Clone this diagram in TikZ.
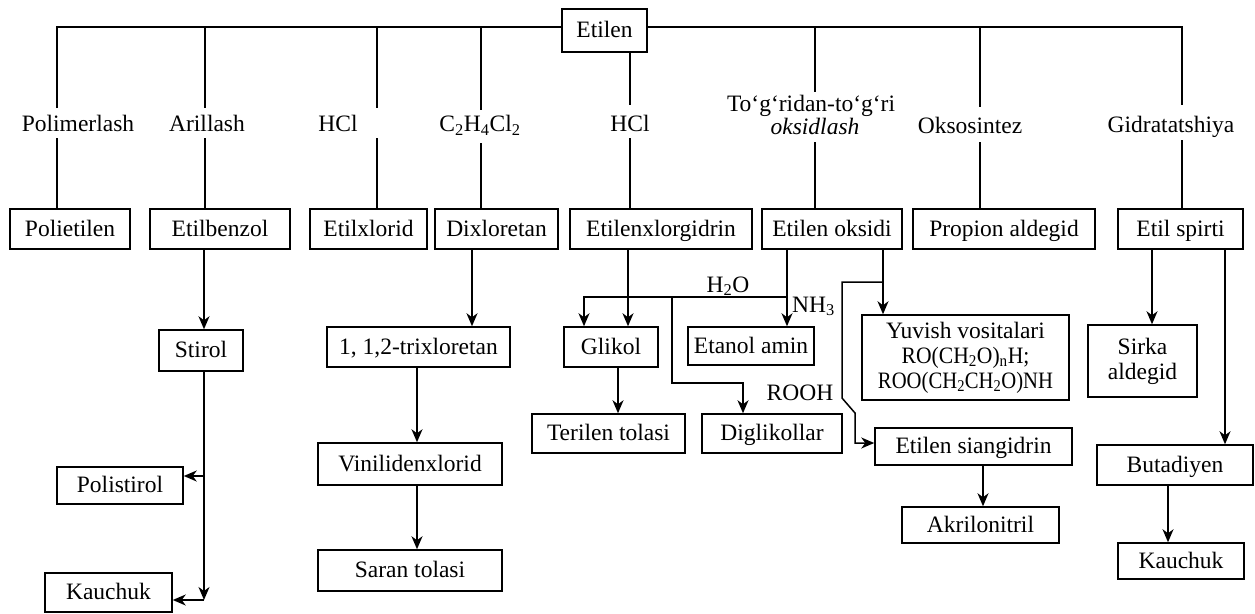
\documentclass[tikz,border=0pt]{standalone}
\usepackage{fontspec}
\setmainfont{Liberation Serif}
\usepackage{graphicx}
\usetikzlibrary{arrows.meta}
\begin{document}
\begin{tikzpicture}[x=1pt,y=-1pt,
  every node/.style={font=\fontsize{23.5}{25}\selectfont},
  box/.style={draw, line width=1.5pt, inner sep=0pt, align=center},
  sbox/.style={box, text height=17pt, text depth=3pt},
  bx/.style 2 args={minimum width=#1pt, minimum height=#2pt},
  conn/.style={line width=1.5pt},
  arr/.style={conn, -{Stealth[length=13pt,width=11pt,inset=4pt]}},
  lbl/.style={anchor=base, inner sep=0pt}]
\useasboundingbox (0,0) rectangle (1255,613);

% boxes
\node[sbox,bx={85}{43}] (etilen) at (604.5,30.5) {Etilen};
\node[sbox,bx={120}{40}] (polietilen) at (70,229) {Polietilen};
\node[sbox,bx={140}{40}] (etilbenzol) at (220,229) {Etilbenzol};
\node[sbox,bx={117}{40}] (etilxlorid) at (368.5,229) {Etilxlorid};
\node[sbox,bx={123}{40}] (dixloretan) at (496.5,229) {Dixloretan};
\node[sbox,bx={182}{40}] (etilenxl) at (661,229) {Etilenxlorgidrin};
\node[sbox,bx={140}{40}] (etilenoks) at (832,229) {Etilen oksidi};
\node[sbox,bx={182}{40}] (propion) at (1004,229) {Propion aldegid};
\node[sbox,bx={125}{40}] (etilspirti) at (1180.5,229) {Etil spirti};

\node[sbox,bx={84}{41}] (stirol) at (201,350.5) {Stirol};
\node[sbox,bx={126}{37}] (polistirol) at (120,485.5) {Polistirol};
\node[sbox,bx={127}{39}] (kauchukA) at (108.5,592.5) {Kauchuk};

\node[sbox,bx={183}{40}] (trixl) at (418.5,347) {1, 1,2-trixloretan};
\node[sbox,bx={184}{42}] (vinil) at (410,464) {Vinilidenxlorid};
\node[sbox,bx={184}{41}] (saran) at (410,570.5) {Saran tolasi};

\node[sbox,bx={94}{40}] (glikol) at (611,347) {Glikol};
\node[sbox,bx={126}{38}] (etanolamin) at (751,346) {Etanol amin};
\node[sbox,bx={153}{39}] (terilen) at (608.5,433.5) {Terilen tolasi};
\node[sbox,bx={140}{39}] (diglikollar) at (772,433.5) {Diglikollar};

\node[box,bx={207}{85}] (yuvish) at (965.5,357.5) {Yuvish vositalari\\
  \scalebox{0.92}[1]{RO(CH\textsubscript{2}O)\textsubscript{n}H;}\\
  \scalebox{0.88}[1]{ROO(CH\textsubscript{2}CH\textsubscript{2}O)NH}};
\node[sbox,bx={197}{37}] (siangidrin) at (973.5,446.5) {Etilen siangidrin};
\node[sbox,bx={157}{36}] (akril) at (980.5,525) {Akrilonitril};

\node[box,bx={109}{72}] (sirka) at (1142.5,361) {Sirka\\aldegid};
\node[sbox,bx={156}{40}] (butadiyen) at (1175,465) {Butadiyen};
\node[sbox,bx={126}{36}] (kauchukB) at (1181,561) {Kauchuk};

% branch labels
\node[lbl] (l1) at (78,131.5) {Polimerlash};
\node[lbl] (l2) at (207,131.5) {Arillash};
\node[lbl] (l3) at (338,131.5) {HCl};
\node[lbl] (l4) at (480,131.5) {C\textsubscript{2}H\textsubscript{4}Cl\textsubscript{2}};
\node[lbl] (l5) at (630,131.5) {HCl};
\node[lbl] (l6a) at (811,111) {To‘g‘ridan-to‘g‘ri};
\node[lbl] (l6b) at (815,134) {\itshape oksidlash};
\node[lbl] (l7) at (970,133) {Oksosintez};
\node[lbl] (l8) at (1171,132) {Gidratatshiya};
\node[lbl] (h2o) at (728,292) {H\textsubscript{2}O};
\node[lbl,anchor=base west] (nh3) at (792,312) {NH\textsubscript{3}};
\node[lbl] (rooh) at (800,400) {ROOH};

% top distribution line
\coordinate (t1) at (57,27);   \coordinate (g1a) at (57,108);   \coordinate (g1b) at (57,138);
\coordinate (t2) at (205,27);  \coordinate (g2a) at (205,108);  \coordinate (g2b) at (205,138);
\coordinate (t3) at (377,27);  \coordinate (g3a) at (377,108);  \coordinate (g3b) at (377,138);
\coordinate (t4) at (481,27);  \coordinate (g4a) at (481,110);  \coordinate (g4b) at (481,143);
\coordinate (g5a) at (630,105); \coordinate (g5b) at (630,138);
\coordinate (t6) at (815,27);  \coordinate (g6a) at (815,92);   \coordinate (g6b) at (815,142);
\coordinate (t7) at (980,27);  \coordinate (g7a) at (980,107);  \coordinate (g7b) at (980,142);
\coordinate (t8) at (1182,27); \coordinate (g8a) at (1182,105); \coordinate (g8b) at (1182,140);

\draw[conn] (g1a) -- (t1) -- (etilen.west |- t1);
\draw[conn] (etilen.east |- t8) -- (t8) -- (g8a);
\draw[conn] (t2) -- (g2a);
\draw[conn] (t3) -- (g3a);
\draw[conn] (t4) -- (g4a);
\draw[conn] (etilen.south -| g5a) -- (g5a);
\draw[conn] (t6) -- (g6a);
\draw[conn] (t7) -- (g7a);

\draw[conn] (g1b) -- (polietilen.north -| g1b);
\draw[conn] (g2b) -- (etilbenzol.north -| g2b);
\draw[conn] (g3b) -- (etilxlorid.north -| g3b);
\draw[conn] (g4b) -- (dixloretan.north -| g4b);
\draw[conn] (g5b) -- (etilenxl.north -| g5b);
\draw[conn] (g6b) -- (etilenoks.north -| g6b);
\draw[conn] (g7b) -- (propion.north -| g7b);
\draw[conn] (g8b) -- (etilspirti.north -| g8b);

% Arillash chain
\coordinate (s1) at (204,0);
\coordinate (k1) at (204,600);
\coordinate (p1) at (204,476);
\draw[arr] (etilbenzol.south -| s1) -- (stirol.north -| s1);
\draw[arr] (stirol.south -| s1) -- (k1);
\draw[arr] (k1) -- (kauchukA.east |- k1);
\draw[arr] (p1) -- (polistirol.east |- p1);

% Dixloretan chain
\coordinate (d1) at (472,0);
\coordinate (d2) at (417,0);
\draw[arr] (dixloretan.south -| d1) -- (trixl.north -| d1);
\draw[arr] (trixl.south -| d2) -- (vinil.north -| d2);
\draw[arr] (vinil.south -| d2) -- (saran.north -| d2);

% Etilenxlorgidrin / Etilen oksidi
\coordinate (e1) at (628,0);
\coordinate (w1) at (584,297);
\coordinate (w2) at (787,297);
\coordinate (r1) at (672,297);
\coordinate (r2) at (672,383);
\coordinate (r3) at (743,383);
\coordinate (g1) at (618,0);
\draw[arr] (etilenxl.south -| e1) -- (glikol.north -| e1);
\draw[arr] (etilenoks.south -| w2) -- (etanolamin.north -| w2);
\draw[arr] (w2) -- (w1) -- (glikol.north -| w1);
\draw[arr] (r1) -- (r2) -- (r3) -- (diglikollar.north -| r3);
\draw[arr] (glikol.south -| g1) -- (terilen.north -| g1);

\coordinate (o1) at (883,282);
\coordinate (o2) at (842,282);
\coordinate (o3) at (842,398);
\coordinate (o4) at (855,413);
\coordinate (o5) at (855,443);
\coordinate (c1) at (983,0);
\draw[arr] (etilenoks.south -| o1) -- (yuvish.north -| o1);
\draw[arr] (o1) -- (o2) -- (o3) -- (o4) -- (o5) -- (siangidrin.west |- o5);
\draw[arr] (siangidrin.south -| c1) -- (akril.north -| c1);

% Etil spirti chain
\coordinate (sp1) at (1152,0);
\coordinate (sp2) at (1225,0);
\coordinate (sp3) at (1168,0);
\draw[arr] (etilspirti.south -| sp1) -- (sirka.north -| sp1);
\draw[arr] (etilspirti.south -| sp2) -- (butadiyen.north -| sp2);
\draw[arr] (butadiyen.south -| sp3) -- (kauchukB.north -| sp3);
\end{tikzpicture}
\end{document}
